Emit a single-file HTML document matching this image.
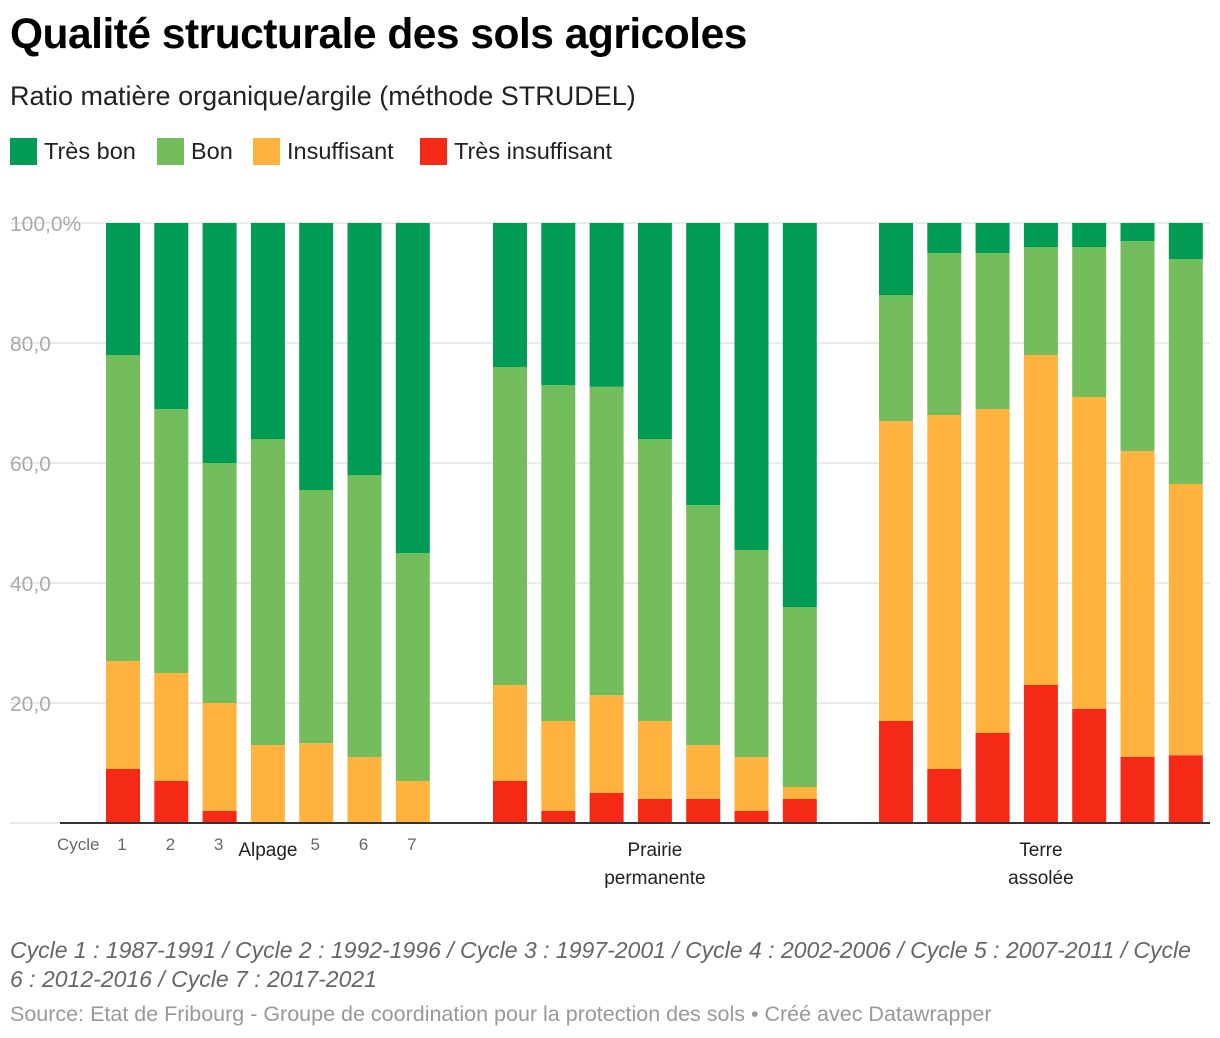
<!DOCTYPE html>
<html><head><meta charset="utf-8"><style>
body{margin:0;width:1220px;height:1038px;background:#fff;font-family:"Liberation Sans",sans-serif;overflow:hidden;position:relative}
.t{position:absolute;white-space:nowrap}
</style></head><body>
<div class="t" style="left:10px;top:11px;font-size:42.5px;font-weight:bold;color:#000;letter-spacing:-0.5px">Qualité structurale des sols agricoles</div>
<div class="t" style="left:10px;top:81px;font-size:27px;color:#222">Ratio matière organique/argile (méthode STRUDEL)</div>
<div style="position:absolute;left:10px;top:138px;font-size:23.5px;color:#222">
<span style="position:absolute;left:0;top:0;white-space:nowrap"><i style="display:inline-block;width:27px;height:27px;background:#009b55;vertical-align:-6px;margin-right:7px"></i>Très bon</span>
<span style="position:absolute;left:147px;top:0;white-space:nowrap"><i style="display:inline-block;width:27px;height:27px;background:#74bd5c;vertical-align:-6px;margin-right:7px"></i>Bon</span>
<span style="position:absolute;left:243px;top:0;white-space:nowrap"><i style="display:inline-block;width:27px;height:27px;background:#ffb23e;vertical-align:-6px;margin-right:7px"></i>Insuffisant</span>
<span style="position:absolute;left:410px;top:0;white-space:nowrap"><i style="display:inline-block;width:27px;height:27px;background:#f42a17;vertical-align:-6px;margin-right:7px"></i>Très insuffisant</span>
</div>
<svg id="chart" width="1220" height="900" style="position:absolute;left:0;top:0" font-family="Liberation Sans, sans-serif"></svg>
<div class="t" style="left:10px;top:936px;font-size:23px;font-style:italic;color:#666;white-space:normal;width:1195px;line-height:29px">Cycle 1 : 1987-1991 / Cycle 2 : 1992-1996 / Cycle 3 : 1997-2001 / Cycle 4 : 2002-2006 / Cycle 5 : 2007-2011 / Cycle 6 : 2012-2016 / Cycle 7 : 2017-2021</div>
<div class="t" style="left:10px;top:1002px;font-size:21.5px;color:#999">Source: Etat de Fribourg - Groupe de coordination pour la protection des sols • Créé avec Datawrapper</div>
<script>
const groups=["Alpage","Prairie permanente","Terre assolée"];
const cycles=["1","2","3","4","5","6","7"];
const tresInsuffisant=[9,7,2,0,0,0,0, 7,2,5,4,4,2,4, 17,9,15,23,19,11,11.3];
const insuffisant=[18,18,18,13,13.3,11,7, 16,15,16.3,13,9,9,2, 50,59,54,55,52,51,45.2];
const bon=[51,44,40,51,42.2,47,38, 53,56,51.4,47,40,34.5,30, 21,27,26,18,25,35,37.5];
const tresBon=[22,31,40,36,44.5,42,55, 24,27,27.3,36,47,54.5,64, 12,5,5,4,4,3,6];
const yTicks=[0,20,40,60,80,100];
const yTickLabels=["","20,0","40,0","60,0","80,0","100,0%"];
const svg=document.getElementById('chart');const NS='http://www.w3.org/2000/svg';
const y0=823,yScale=6;const y=v=>y0-v*yScale;
const groupStarts=[106,493,879],step=48.3,bw=34;
const xb=i=>groupStarts[Math.floor(i/7)]+(i%7)*step;
function el(t,a){const e=document.createElementNS(NS,t);for(const k in a)e.setAttribute(k,a[k]);svg.appendChild(e);return e;}
yTicks.forEach((v,i)=>{const l=el('line',{x1:10,x2:1210,y1:y(v),y2:y(v),stroke:'#e3e3e3','stroke-width':1.5});


if(yTickLabels[i]){const t=el('text',{x:10,y:y(v)+8,'font-size':21,fill:'#aaa'});t.textContent=yTickLabels[i];

}});
const series=[[tresInsuffisant,'#f42a17','tres-insuffisant'],[insuffisant,'#ffb23e','insuffisant'],[bon,'#74bd5c','bon'],[tresBon,'#009b55','tres-bon']];
for(let i=0;i<21;i++){let c=0;series.forEach(([arr,col,n])=>{const v=arr[i];if(v>0){const r=el('rect',{x:xb(i),y:y(c+v),width:bw,height:v*yScale,fill:col});

}c+=v;});}
const ax=el('line',{x1:60,x2:1210,y1:y0,y2:y0,stroke:'#333','stroke-width':2});


function txt(x,yy,s,fs,fill,anchor){const t=el('text',{x:x,y:yy,'font-size':fs,fill:fill,'text-anchor':anchor||'middle'});t.textContent=s;return t;}
const cy=txt(57,850,'Cycle',17,'#666','start');


cycles.forEach((c,k)=>{if(k===3)return;const t=txt(xb(k)+bw/2-1,850,c,17,'#666');

});
const g1=txt(xb(3)+bw/2,856,groups[0],19,'#222');


const g2=txt((xb(7)+xb(13)+bw)/2,856,'Prairie',19,'#222');


const g2b=txt((xb(7)+xb(13)+bw)/2,884,'permanente',19,'#222');


const g3=txt((xb(14)+xb(20)+bw)/2,856,'Terre',19,'#222');


const g3b=txt((xb(14)+xb(20)+bw)/2,884,'assolée',19,'#222');


</script>
</body></html>
